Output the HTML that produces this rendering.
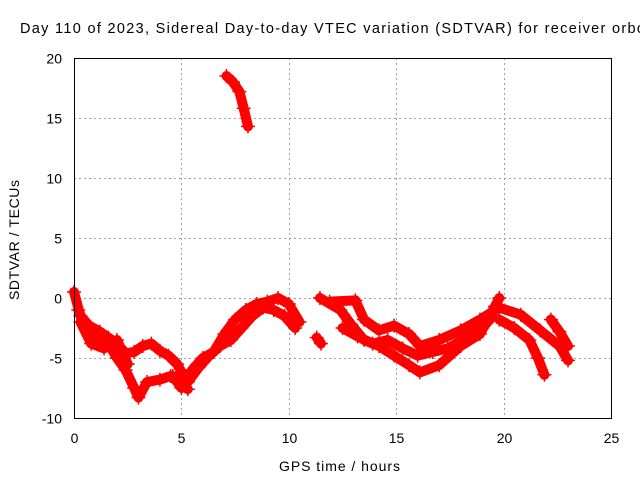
<!DOCTYPE html>
<html><head><meta charset="utf-8"><style>
body{margin:0;background:#fff;}
svg{display:block;font-family:"Liberation Sans",sans-serif;font-size:14px;}
</style></head><body>
<svg id="chart" width="640" height="480">
<text x="20" y="33" font-size="14.5" textLength="625" lengthAdjust="spacing">Day 110 of 2023, Sidereal Day-to-day VTEC variation (SDTVAR) for receiver orbo</text>
<g id="grid"></g><g id="ticks"></g><g id="marks"></g>
<rect x="74.5" y="58.5" width="537" height="360" fill="none" stroke="#000"/>
<text x="279" y="471" textLength="121" lengthAdjust="spacing">GPS time / hours</text>
<text transform="translate(19,240) rotate(-90)" text-anchor="middle" textLength="120" lengthAdjust="spacing">SDTVAR / TECUs</text>
</svg>
<script>
const xTicks=[0,5,10,15,20,25];
const yTicks=[-10,-5,0,5,10,15,20];
const track1T=[0,0.3,0.7,1.2,1.6,2.0,2.4,2.8,3.2,3.6,4.0,4.4,4.8,5.1];
const track1V=[0.5,-1.5,-2.3,-2.8,-3.3,-3.8,-4.6,-4.5,-4.0,-3.8,-4.4,-4.8,-5.5,-6.5];
const track2T=[0.2,0.6,1.0,1.5,2.0,2.4,2.8,3.0,3.4,4.0,4.5,5.0,5.3];
const track2V=[-1,-2.8,-3.5,-3.5,-5.0,-6.0,-7.5,-8.3,-7.0,-6.8,-6.5,-7.2,-7.6];
const track3T=[4.6,5.0,5.5,6.0,6.5,7.0,7.5,8.0,8.5,9.0,9.5,10.0,10.5];
const track3V=[-6.5,-7.5,-6.0,-5.0,-4.5,-3.0,-1.8,-1.0,-0.5,-0.3,0.0,-0.5,-2.0];
const track4T=[5.3,5.8,6.3,6.8,7.3,7.8,8.3,8.8,9.3,9.8,10.3];
const track4V=[-7,-5.8,-4.8,-4,-3.5,-2.5,-1.5,-0.8,-1.0,-1.5,-2.5];
const track5T=[7.1,7.4,7.7,7.9,8.1];
const track5V=[18.5,18,17.2,15.8,14.3];
const track6T=[11.45,12.4,12.9,13.5,14.2,14.9,15.6,16.1,17.0,18.0,18.9,19.6,19.8];
const track6V=[0,-1,-2.2,-3.5,-4,-4.8,-5.6,-6.2,-5.6,-4,-3,-0.7,0];
const track7T=[11.9,13.1,13.5,14.2,14.9,15.6,16.1,17,18,18.9,19.8,20.8,21.7,22.6,23];
const track7V=[-0.3,-0.2,-1.8,-2.7,-2.3,-3,-4,-3.5,-2.7,-1.8,-0.8,-1.4,-2.7,-4,-5.2];
const track8T=[19.8,20.5,21.2,21.6,21.9];
const track8V=[-1.8,-2.5,-3.5,-5,-6.4];
const track9T=[22.2,22.6,23];
const track9V=[-1.8,-2.8,-4];
const track10T=[11.3,11.5];
const track10V=[-3.3,-3.8];
const track11T=[12.5,13.2,13.9,14.6,15.3,16,16.7,17.4,18.2,19,19.5];
const track11V=[-2.5,-3.2,-3.8,-3.5,-4.2,-4.8,-4.5,-4.2,-3.4,-2.5,-1.5];
const track12T=[0.3,0.8,1.4,2.0,2.5];
const track12V=[-2,-3.8,-4.2,-3.5,-5.5];
const tracks=[[track1T,track1V],[track2T,track2V],[track3T,track3V],[track4T,track4V],[track5T,track5V],[track6T,track6V],[track7T,track7V],[track8T,track8V],[track9T,track9V],[track10T,track10V],[track11T,track11V],[track12T,track12V]];
const NS="http://www.w3.org/2000/svg";
const xs=t=>74+t*(537/25);
const ys=v=>298-v*12;
function mk(tag,attrs,parent){const e=document.createElementNS(NS,tag);for(const k in attrs)e.setAttribute(k,attrs[k]);parent.appendChild(e);return e;}
const grid=document.getElementById('grid'),ticks=document.getElementById('ticks'),marks=document.getElementById('marks');
xTicks.forEach(t=>{const x=Math.round(xs(t))+0.5;
 if(t>0&&t<25){const g=mk('line',{x1:x,x2:x,y1:58,y2:418,stroke:'#a0a0a0','stroke-dasharray':'2,3'},grid);
 
 }
 const l=mk('text',{x:x,y:443,'text-anchor':'middle'},ticks);l.textContent=t;
 
 });
yTicks.forEach(v=>{const y=Math.round(ys(v))+0.5;
 if(v>-10&&v<20){const g=mk('line',{x1:74,x2:611,y1:y,y2:y,stroke:'#a0a0a0','stroke-dasharray':'2,3'},grid);
 
 }
 const l=mk('text',{x:62,y:y+5,'text-anchor':'end'},ticks);l.textContent=v;
 
 });
tracks.forEach(([T,V],i)=>{
 const pts=T.map((t,j)=>xs(t)+','+ys(V[j])).join(' ');
 const p=mk('polyline',{points:pts,fill:'none',stroke:'#ff0000','stroke-width':10,'stroke-linejoin':'round','stroke-linecap':'round'},marks);
 
 
 T.forEach((t,j)=>{const x=xs(t),y=ys(V[j]);
  const m=mk('path',{d:`M${x-7},${y}H${x+7}M${x},${y-7}V${y+7}`,stroke:'#ff0000','stroke-width':1.5},marks);
  
  });
});
</script>
</body></html>
